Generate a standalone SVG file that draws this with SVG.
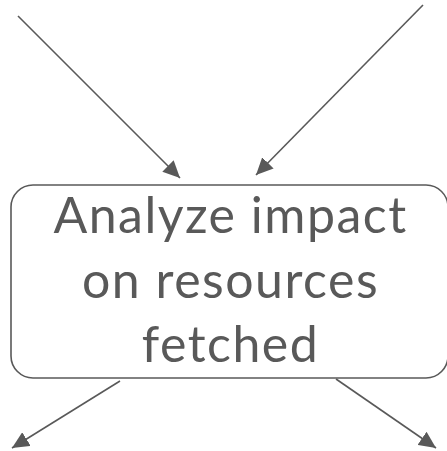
<svg xmlns="http://www.w3.org/2000/svg" width="447" height="451" viewBox="0 0 447 451">
<style>
.edge{stroke:#595959;stroke-width:1.6;fill:none}
.box{fill:#fff;stroke:#595959;stroke-width:1.6}
.lbl{font-family:"Lato","Noto Sans",sans-serif;font-size:50px;letter-spacing:1.5px;fill:#595959;text-anchor:middle}
</style>
<defs>
<marker id="ah" markerUnits="userSpaceOnUse" markerWidth="18" markerHeight="16" refX="17" refY="8" orient="auto">
<path d="M0,0 L17,8 L0,16 Z" fill="#595959"/>
</marker>
</defs>
<rect width="447" height="451" fill="#fff"/>
<g id="connectors">
<line class="edge" x1="18" y1="16" x2="180" y2="178" marker-end="url(#ah)"/>
<line class="edge" x1="423" y1="5" x2="256" y2="175" marker-end="url(#ah)"/>
<line class="edge" x1="120" y1="381" x2="12" y2="448" marker-end="url(#ah)"/>
<line class="edge" x1="336" y1="379" x2="436" y2="448" marker-end="url(#ah)"/>
</g>
<g id="node-analyze">
<rect class="box" x="11" y="185" width="437" height="193" rx="22"/>
<text class="lbl" x="230.5" y="233">Analyze impact</text>
<text class="lbl" x="230.5" y="298">on resources</text>
<text class="lbl" x="230.5" y="362">fetched</text>
</g>
</svg>
